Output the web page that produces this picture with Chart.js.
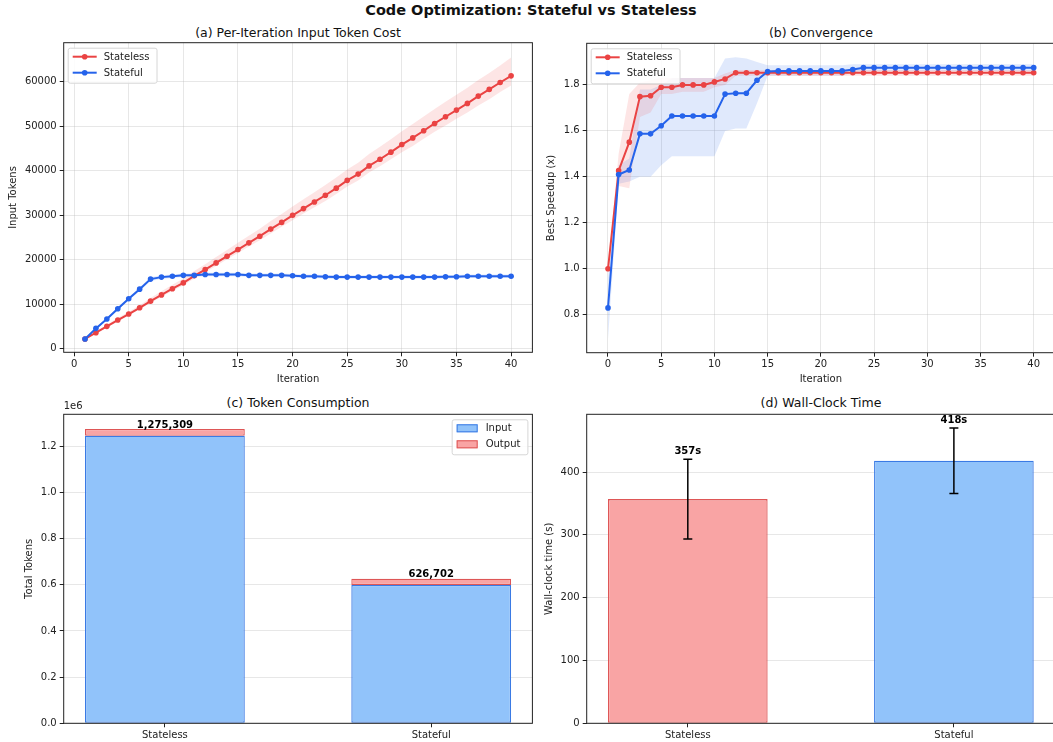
<!DOCTYPE html>
<html>
<head>
<meta charset="utf-8">
<script src="https://cdn.jsdelivr.net/npm/chart.js@4.4.0/dist/chart.umd.min.js"></script>
<style>
  html, body { margin: 0; padding: 0; background: #fff; width: 1053px; height: 742px; overflow: hidden; position: relative; font-family: "DejaVu Sans", sans-serif; }
  canvas { position: absolute; }
  .t { position: absolute; white-space: nowrap; color: #111; transform: translateX(-50%); font-size: 12.5px; line-height: 15px; }
  #sup { font-weight: bold; font-size: 14.5px; line-height: 17px; }
</style>
</head>
<body>
<div class="t" id="sup" style="left:531px;top:2px">Code Optimization: Stateful vs Stateless</div>
<div class="t" style="left:298px;top:24.5px">(a) Per-Iteration Input Token Cost</div>
<div class="t" style="left:821px;top:24.5px">(b) Convergence</div>
<div class="t" style="left:298px;top:394.5px">(c) Token Consumption</div>
<div class="t" style="left:821px;top:394.5px">(d) Wall-Clock Time</div>

<canvas id="ca" width="540" height="360" style="left:0;top:30px"></canvas>
<canvas id="cb" width="520" height="360" style="left:540px;top:30px"></canvas>
<canvas id="cc" width="540" height="347" style="left:0;top:395px"></canvas>
<canvas id="cd" width="520" height="347" style="left:540px;top:395px"></canvas>

<script>
// ---------- data ----------
const iterA = [1,2,3,4,5,6,7,8,9,10,11,12,13,14,15,16,17,18,19,20,21,22,23,24,25,26,27,28,29,30,31,32,33,34,35,36,37,38,39,40];
const statelessA = [2200,3600,5030,6450,7800,9200,10700,12100,13500,14800,16400,17800,19300,20800,22300,23800,25300,26900,28400,30000,31500,33000,34500,36100,37850,39260,41100,42600,44200,45900,47400,49000,50650,52150,53650,55150,56800,58300,59850,61350];
const statelessAHi = [2400,3900,5400,6900,8300,9800,11400,12900,14400,15800,17500,19000,20600,22200,23800,25400,27000,28700,30300,32000,33600,35200,36800,38500,40300,41800,43800,45400,47100,48900,50500,52200,53900,55500,57100,58700,60400,62000,63700,65500];
const statelessALo = [2000,3400,4800,6200,7500,8900,10300,11700,13000,14300,15800,17200,18600,20100,21500,23000,24400,25900,27400,28900,30400,31800,33200,34800,36500,37800,39600,41000,42600,44200,45600,47200,48800,50200,51700,53100,54700,56100,57700,59200];
const statefulA = [2200,4580,6670,9000,11240,13400,15660,16100,16300,16500,16500,16700,16700,16700,16700,16500,16500,16500,16500,16400,16300,16300,16200,16100,16100,16100,16100,16100,16100,16100,16100,16100,16100,16200,16200,16300,16300,16300,16300,16300];
const statefulAHi = [2350,4800,6950,9350,11600,13800,16050,16500,16700,16900,16900,17100,17100,17100,17100,16900,16900,16900,16900,16800,16700,16700,16600,16500,16500,16500,16500,16500,16500,16500,16500,16500,16500,16600,16600,16700,16700,16700,16700,16700];
const statefulALo = [2050,4350,6400,8650,10900,13000,15250,15700,15900,16100,16100,16300,16300,16300,16300,16100,16100,16100,16100,16000,15900,15900,15800,15700,15700,15700,15700,15700,15700,15700,15700,15700,15700,15800,15800,15900,15900,15900,15900,15900];

const iterB = [0,1,2,3,4,5,6,7,8,9,10,11,12,13,14,15,16,17,18,19,20,21,22,23,24,25,26,27,28,29,30,31,32,33,34,35,36,37,38,39,40];
const statelessB = [1.0,1.427,1.551,1.749,1.753,1.790,1.790,1.800,1.800,1.800,1.813,1.826,1.853,1.853,1.853,1.853,1.853,1.853,1.853,1.853,1.853,1.853,1.853,1.853,1.853,1.853,1.853,1.853,1.853,1.853,1.853,1.853,1.853,1.853,1.853,1.853,1.853,1.853,1.853,1.853,1.853];
const statelessBHi = [1.0,1.50,1.76,1.81,1.82,1.83,1.83,1.83,1.83,1.83,1.83,1.85,1.865,1.865,1.865,1.865,1.865,1.865,1.865,1.865,1.865,1.865,1.865,1.865,1.865,1.865,1.865,1.865,1.865,1.865,1.865,1.865,1.865,1.865,1.865,1.865,1.865,1.865,1.865,1.865,1.865];
const statelessBLo = [1.0,1.36,1.35,1.66,1.68,1.76,1.76,1.77,1.77,1.77,1.79,1.80,1.84,1.84,1.84,1.84,1.84,1.84,1.84,1.84,1.84,1.84,1.84,1.84,1.84,1.84,1.84,1.84,1.84,1.84,1.84,1.84,1.84,1.84,1.84,1.84,1.84,1.84,1.84,1.84,1.84];
const statefulB = [0.83,1.41,1.43,1.587,1.587,1.622,1.665,1.665,1.665,1.665,1.665,1.760,1.764,1.764,1.820,1.858,1.861,1.861,1.861,1.861,1.861,1.861,1.861,1.867,1.875,1.875,1.875,1.875,1.875,1.875,1.875,1.875,1.875,1.875,1.875,1.875,1.875,1.875,1.875,1.875,1.875];
const statefulBHi = [0.96,1.45,1.48,1.78,1.78,1.80,1.83,1.83,1.83,1.83,1.83,1.915,1.92,1.915,1.90,1.885,1.885,1.885,1.885,1.885,1.885,1.885,1.885,1.89,1.89,1.89,1.89,1.89,1.89,1.89,1.89,1.89,1.89,1.89,1.89,1.89,1.89,1.89,1.89,1.89,1.89];
const statefulBLo = [0.694,1.37,1.38,1.40,1.40,1.45,1.49,1.49,1.49,1.49,1.49,1.60,1.61,1.61,1.72,1.84,1.84,1.84,1.84,1.84,1.84,1.84,1.84,1.855,1.86,1.86,1.86,1.86,1.86,1.86,1.86,1.86,1.86,1.86,1.86,1.86,1.86,1.86,1.86,1.86,1.86];

const modes = ['Stateless', 'Stateful'];
const inputTokens = [1246000, 599500];
const outputTokens = [29309, 27202];
const wallMean = [357, 418];
const wallStd = [63.5, 52];

const ticksA_x = [0,5,10,15,20,25,30,35,40];
const ticksA_y = [0,10000,20000,30000,40000,50000,60000];
const ticksB_y = [0.8,1.0,1.2,1.4,1.6,1.8];
const ticksC_y = [0,200000,400000,600000,800000,1000000,1200000];
const ticksD_y = [0,100,200,300,400];

// ---------- styles ----------
const RED = '#ea4343';
const BLUE = '#2563eb';
const RED_BAND = 'rgba(239,68,68,0.14)';
const BLUE_BAND = 'rgba(37,99,235,0.14)';
const IN_FILL = '#91c3fa', IN_EDGE = '#3a7ae4';
const OUT_FILL = '#f9a4a4', OUT_EDGE = '#de5656';
const GRID = 'rgba(176,176,176,0.3)';
const INK = '#222';

Chart.defaults.font.family = '"DejaVu Sans", sans-serif';
Chart.defaults.font.size = 10;
Chart.defaults.color = INK;
Chart.defaults.animation = false;
Chart.defaults.plugins.legend.display = false;
Chart.defaults.plugins.tooltip.enabled = false;

const xy = (xs, ys) => xs.map((x, i) => ({x: x, y: ys[i]}));

function axis(o) {
  return {
    type: 'linear',
    min: o.min, max: o.max,
    afterBuildTicks: s => { s.ticks = o.ticks.map(v => ({value: v})); },
    afterFit: s => { if (s.isHorizontal()) s.height = o.size; else s.width = o.size; },
    grid: { color: GRID, drawOnChartArea: o.grid, tickColor: INK, tickLength: 4, lineWidth: 1 },
    border: { display: false },
    ticks: { padding: o.pad, autoSkip: false, maxRotation: 0, color: INK, callback: o.fmt },
    title: o.title ? { display: true, text: o.title, color: INK, font: {size: 10}, padding: o.titlePad } : { display: false }
  };
}

// bar charts: keep the numeric x axis flush, like the line panels
function barX(o) {
  const a = axis(o);
  a.offset = false;
  a.grid.offset = false;
  return a;
}

const frame = {
  id: 'frame',
  afterDatasetsDraw(chart) {
    const {ctx, chartArea: a} = chart;
    ctx.save();
    ctx.strokeStyle = INK;
    ctx.lineWidth = 1;
    ctx.strokeRect(a.left, a.top, a.right - a.left, a.bottom - a.top);
    ctx.restore();
  }
};

const boxLegend = {
  id: 'boxLegend',
  afterDraw(chart, args, o) {
    if (!o.items) return;
    const {ctx, chartArea: a} = chart;
    ctx.save();
    ctx.font = '10px "DejaVu Sans"';
    const tw = Math.max(...o.items.map(i => ctx.measureText(i.label).width));
    const tx = o.kind === 'line' ? 36 : 34;
    const w = tx + tw + 7;
    const h = 19 + 16 * (o.items.length - 1);
    const x = o.corner === 'tr' ? a.right - 5 - w : a.left + 4;
    const y = a.top + 5;
    ctx.fillStyle = 'rgba(255,255,255,0.85)';
    ctx.strokeStyle = '#d6d6d6';
    ctx.lineWidth = 1;
    ctx.beginPath();
    ctx.roundRect(x + 0.5, y + 0.5, w, h, 2);
    ctx.fill();
    ctx.stroke();
    o.items.forEach((it, i) => {
      const cy = y + 9 + 16 * i;
      if (o.kind === 'line') {
        ctx.strokeStyle = it.color;
        ctx.lineWidth = 2;
        ctx.beginPath();
        ctx.moveTo(x + 5, cy);
        ctx.lineTo(x + 29, cy);
        ctx.stroke();
        ctx.fillStyle = it.color;
        ctx.beginPath();
        ctx.arc(x + 17, cy, 2.8, 0, Math.PI * 2);
        ctx.fill();
      } else {
        ctx.fillStyle = it.fill;
        ctx.strokeStyle = it.edge;
        ctx.lineWidth = 1;
        ctx.fillRect(x + 5, cy - 4, 21, 8);
        ctx.strokeRect(x + 5.5, cy - 3.5, 20, 7);
      }
      ctx.fillStyle = INK;
      ctx.textBaseline = 'middle';
      ctx.textAlign = 'left';
      ctx.fillText(it.label, x + tx, cy + 0.5);
    });
    ctx.restore();
  }
};

function bandSets(hiX, hi, lo, color) {
  return [
    { data: xy(hiX, hi), borderWidth: 0, borderColor: 'transparent', pointRadius: 0, fill: false, order: 10 },
    { data: xy(hiX, lo), borderWidth: 0, borderColor: 'transparent', pointRadius: 0, backgroundColor: color, order: 10 }
  ];
}

function lineSet(xs, ys, color, order) {
  return { data: xy(xs, ys), borderColor: color, backgroundColor: color, borderWidth: 2,
           pointRadius: 2.8, pointBorderWidth: 0, pointBackgroundColor: color, tension: 0, fill: false, order: order };
}

const lineLegend = { kind: 'line', corner: 'tl', items: [ {label: 'Stateless', color: RED}, {label: 'Stateful', color: BLUE} ] };

// ---------- (a) ----------
(function () {
  const sets = [].concat(bandSets(iterA, statelessAHi, statelessALo, RED_BAND), bandSets(iterA, statefulAHi, statefulALo, BLUE_BAND));
  sets[1].fill = 0;
  sets[3].fill = 2;
  sets.push(lineSet(iterA, statelessA, RED, 2), lineSet(iterA, statefulA, BLUE, 1));
  new Chart(document.getElementById('ca'), {
    type: 'line',
    data: { datasets: sets },
    options: {
      responsive: false,
      layout: { padding: { left: 0, top: 12.7, right: 7.6, bottom: 0 } },
      scales: {
        x: axis({ min: -0.95, max: 41.95, ticks: ticksA_x, size: 37.7, grid: true, pad: 2, fmt: v => String(v), title: 'Iteration', titlePad: {top: 0, bottom: 5} }),
        y: axis({ min: -800, max: 68800, ticks: ticksA_y, size: 63.7, grid: true, pad: 3, fmt: v => String(v), title: 'Input Tokens', titlePad: {top: 7, bottom: 0} })
      },
      plugins: { boxLegend: lineLegend }
    },
    plugins: [frame, boxLegend]
  });
})();

// ---------- (b) ----------
(function () {
  const sets = [].concat(bandSets(iterB, statelessBHi, statelessBLo, RED_BAND), bandSets(iterB, statefulBHi, statefulBLo, BLUE_BAND));
  sets[1].fill = 0;
  sets[3].fill = 2;
  sets.push(lineSet(iterB, statelessB, RED, 2), lineSet(iterB, statefulB, BLUE, 1));
  new Chart(document.getElementById('cb'), {
    type: 'line',
    data: { datasets: sets },
    options: {
      responsive: false,
      layout: { padding: { left: 0, top: 13.3, right: 5, bottom: 0 } },
      scales: {
        x: axis({ min: -2, max: 42, ticks: ticksA_x, size: 37.3, grid: true, pad: 2, fmt: v => String(v), title: 'Iteration', titlePad: {top: 0, bottom: 5} }),
        y: axis({ min: 0.635, max: 1.981, ticks: ticksB_y, size: 46.7, grid: true, pad: 3, fmt: v => v.toFixed(1), title: 'Best Speedup (x)', titlePad: {top: 5, bottom: 0} })
      },
      plugins: { boxLegend: lineLegend }
    },
    plugins: [frame, boxLegend]
  });
})();

// ---------- (c) ----------
const tokenLabels = {
  id: 'tokenLabels',
  afterDatasetsDraw(chart) {
    const {ctx, chartArea: a, scales: {x, y}} = chart;
    ctx.save();
    ctx.fillStyle = '#000';
    ctx.font = 'bold 10px "DejaVu Sans"';
    ctx.textAlign = 'center';
    ctx.textBaseline = 'bottom';
    modes.forEach((m, i) => {
      const total = inputTokens[i] + outputTokens[i];
      ctx.fillText(total.toLocaleString('en-US'), x.getPixelForValue(i), y.getPixelForValue(total) + 1);
    });
    ctx.font = '10px "DejaVu Sans"';
    ctx.fillStyle = INK;
    ctx.textAlign = 'left';
    ctx.textBaseline = 'middle';
    ctx.fillText('1e6', a.left, a.top - 8);
    ctx.restore();
  }
};

new Chart(document.getElementById('cc'), {
  type: 'bar',
  data: {
    datasets: [
      { label: 'Input', data: xy([0, 1], inputTokens), backgroundColor: IN_FILL, borderColor: IN_EDGE, borderWidth: 1.3, borderSkipped: false, categoryPercentage: 1, barPercentage: 0.6 },
      { label: 'Output', data: xy([0, 1], outputTokens), backgroundColor: OUT_FILL, borderColor: OUT_EDGE, borderWidth: 1.3, borderSkipped: false, categoryPercentage: 1, barPercentage: 0.6 }
    ]
  },
  options: {
    responsive: false,
    layout: { padding: { left: 0, top: 19.3, right: 7.6, bottom: 0 } },
    scales: {
      x: Object.assign(barX({ min: -0.38, max: 1.38, ticks: [0, 1], size: 18.7, grid: false, pad: 2, fmt: v => modes[v] }), { stacked: true }),
      y: Object.assign(axis({ min: 0, max: 1339074, ticks: ticksC_y, size: 63.7, grid: true, pad: 3, fmt: v => (v / 1e6).toFixed(1), title: 'Total Tokens', titlePad: {top: 23, bottom: 0} }), { stacked: true })
    },
    plugins: { boxLegend: { kind: 'patch', corner: 'tr', items: [ {label: 'Input', fill: IN_FILL, edge: IN_EDGE}, {label: 'Output', fill: OUT_FILL, edge: OUT_EDGE} ] } }
  },
  plugins: [frame, tokenLabels, boxLegend]
});

// ---------- (d) ----------
const errorBars = {
  id: 'errorBars',
  afterDatasetsDraw(chart) {
    const {ctx, scales: {x, y}} = chart;
    ctx.save();
    ctx.strokeStyle = '#000';
    ctx.lineWidth = 1.5;
    wallMean.forEach((m, i) => {
      const px = x.getPixelForValue(i);
      const top = y.getPixelForValue(m + wallStd[i]);
      const bot = y.getPixelForValue(m - wallStd[i]);
      ctx.beginPath();
      ctx.moveTo(px, top); ctx.lineTo(px, bot);
      ctx.moveTo(px - 4.5, top); ctx.lineTo(px + 4.5, top);
      ctx.moveTo(px - 4.5, bot); ctx.lineTo(px + 4.5, bot);
      ctx.stroke();
      ctx.fillStyle = '#000';
      ctx.font = 'bold 10px "DejaVu Sans"';
      ctx.textAlign = 'center';
      ctx.textBaseline = 'bottom';
      ctx.fillText(Math.round(m) + 's', px, top - 3);
    });
    ctx.restore();
  }
};

new Chart(document.getElementById('cd'), {
  type: 'bar',
  data: {
    datasets: [
      { data: xy([0, 1], wallMean), backgroundColor: [OUT_FILL, IN_FILL], borderColor: [OUT_EDGE, IN_EDGE], borderWidth: 1.3, borderSkipped: false, categoryPercentage: 1, barPercentage: 0.6 }
    ]
  },
  options: {
    responsive: false,
    layout: { padding: { left: 0, top: 19.3, right: 5, bottom: 0 } },
    scales: {
      x: barX({ min: -0.38, max: 1.38, ticks: [0, 1], size: 18.7, grid: false, pad: 2, fmt: v => modes[v] }),
      y: axis({ min: 0, max: 492, ticks: ticksD_y, size: 46.7, grid: true, pad: 3, fmt: v => String(v), title: 'Wall-clock time (s)', titlePad: {top: 3, bottom: 0} })
    }
  },
  plugins: [frame, errorBars]
});
</script>
</body>
</html>
